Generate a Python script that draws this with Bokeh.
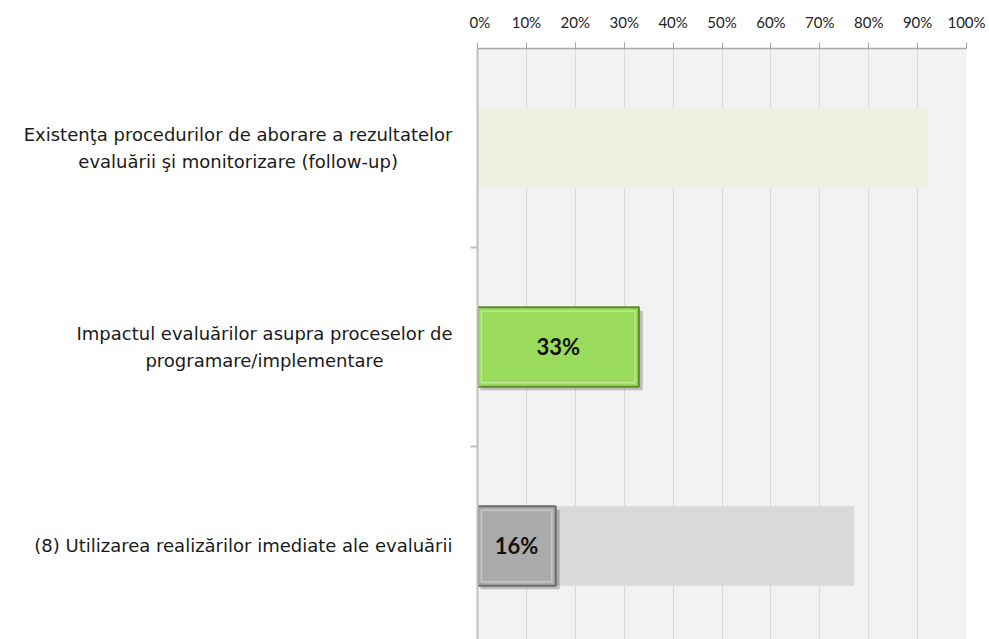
from bokeh.plotting import figure
from bokeh.layouts import row
from bokeh.models import (ColumnDataSource, Range1d, FixedTicker, PrintfTickFormatter)
from bokeh.transform import dodge
from bokeh.core.properties import value
from bokeh.embed import file_html
from bokeh.resources import INLINE

# ---- data ----
categories = [
    "Existenţa procedurilor de aborare a rezultatelor\nevaluării şi monitorizare (follow-up)",
    "Impactul evaluărilor asupra proceselor de\nprogramare/implementare",
    "(8) Utilizarea realizărilor imediate ale evaluării",
]
cat_pos = [0.5, 1.5, 2.5]
results = [0, 33, 16]          # foreground bars (%)
totals = [92, 0, 77]           # light background bars (%)
bar_colors = ["#9BDB5B", "#9BDB5B", "#ABABAB"]
bar_edges = ["#5E8A2E", "#5E8A2E", "#6A6A6A"]
bg_colors = ["#EBF1DE", "#EBF1DE", "#D9D9D9"]
x_ticks = [0, 10, 20, 30, 40, 50, 60, 70, 80, 90, 100]

FONT = "DejaVu Sans"
H = 639
yr = Range1d(2.97, 0)

# ---- left panel: category labels ----
lp = figure(width=469, height=H, output_backend="svg", toolbar_location=None,
            x_range=Range1d(0, 469), y_range=yr,
            x_axis_location=None, y_axis_location=None,
            min_border_left=0, min_border_right=0, min_border_top=48, min_border_bottom=0)
lp.outline_line_color = None
lp.grid.visible = False
lab = ColumnDataSource(dict(y=cat_pos, text=categories))
lp.text(x=452, y="y", text="text", source=lab, anchor="center_right", text_align="center",
        text_baseline="middle",
        text_font=value(FONT), text_font_size="18px", text_color="#1A1A1A",
        text_line_height=1.3)

# ---- chart ----
p = figure(width=520, height=H, output_backend="svg", toolbar_location=None,
           x_range=Range1d(0, 100), y_range=yr,
           x_axis_location="above",
           min_border_left=8, min_border_right=23, min_border_top=48, min_border_bottom=0)
p.background_fill_color = "#F2F2F2"
p.border_fill_color = "white"
p.outline_line_color = None

p.xaxis.ticker = FixedTicker(ticks=x_ticks)
p.xaxis.formatter = PrintfTickFormatter(format="%d%%")
p.xaxis.major_label_text_font = "Lato"
p.xaxis.major_label_text_font_size = "15px"
p.xaxis.major_label_text_color = "#222222"
p.xaxis.major_label_standoff = 12
p.xaxis.axis_line_color = "#A6A6A6"
p.xaxis.axis_line_width = 1.5
p.xaxis.major_tick_line_color = "#A6A6A6"
p.xaxis.major_tick_out = 6
p.xaxis.major_tick_in = 0
p.xaxis.minor_tick_line_color = None

p.yaxis.ticker = FixedTicker(ticks=[1, 2])
p.yaxis.major_label_overrides = {1: "", 2: ""}
p.yaxis.major_label_standoff = 0
p.yaxis.axis_line_color = "#BFBFBF"
p.yaxis.axis_line_width = 2
p.yaxis.major_tick_line_color = "#BFBFBF"
p.yaxis.major_tick_line_width = 2
p.yaxis.major_tick_out = 7
p.yaxis.major_tick_in = 0
p.yaxis.minor_tick_line_color = None

p.xgrid.grid_line_color = "#D9D9D9"
p.ygrid.grid_line_color = None

# background (total) bars
bi = [i for i in range(3) if totals[i] > 0]
bg = ColumnDataSource(dict(y=[cat_pos[i] for i in bi], right=[totals[i] for i in bi],
                           color=[bg_colors[i] for i in bi]))
p.hbar(y="y", right="right", left=0, height=0.4, source=bg, fill_color="color", line_color=None)

# foreground result bars
idx = [i for i in range(3) if results[i] > 0]
fg = ColumnDataSource(dict(y=[cat_pos[i] for i in idx],
                           right=[results[i] for i in idx],
                           mid=[results[i] / 2 for i in idx],
                           label=["%d%%" % results[i] for i in idx],
                           color=[bar_colors[i] for i in idx],
                           edge=[bar_edges[i] for i in idx]))
p.hbar(y=dodge("y", 0.018, range=p.y_range), right=dodge("right", 0.8, range=p.x_range),
       left=0.6, height=0.4, source=fg, fill_color="black", fill_alpha=0.22, line_color=None)
p.hbar(y="y", right="right", left=0, height=0.4, source=fg,
       fill_color="color", line_color="edge", line_width=2)
p.hbar(y="y", right=dodge("right", -0.8, range=p.x_range), left=0.8, height=0.36, source=fg,
       fill_color=None, line_color="white", line_alpha=0.35, line_width=1.5)
p.text(x="mid", y="y", text="label", source=fg, text_align="center", text_baseline="middle",
       text_font=value("Lato"), text_font_style="bold", text_font_size="22px", text_color="#111111")

layout = row(lp, p, spacing=0)
open("out.html", "w").write(file_html(layout, INLINE))
